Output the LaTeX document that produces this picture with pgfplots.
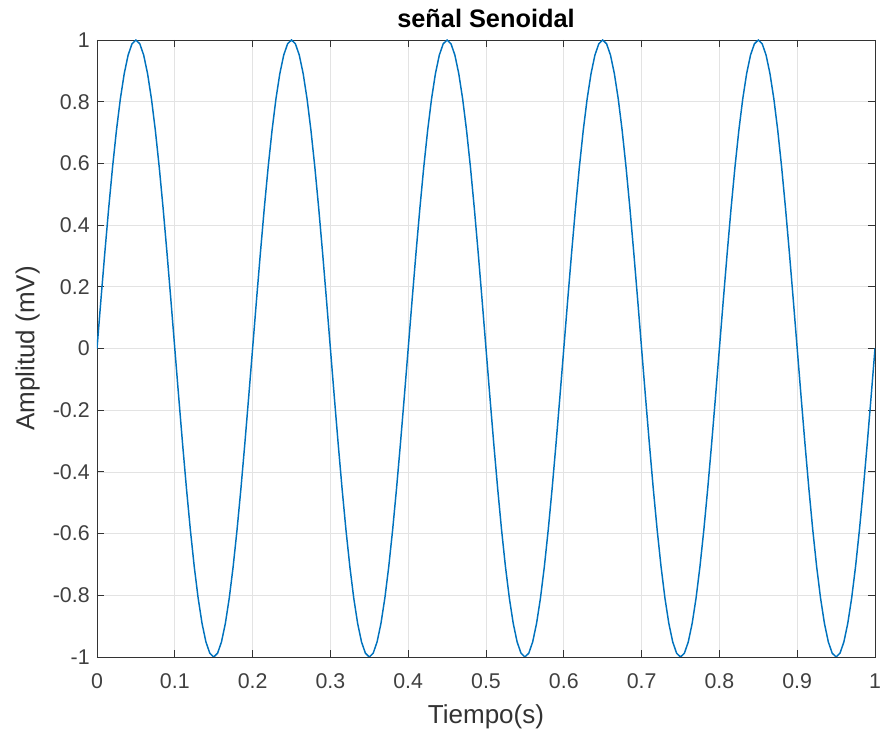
\documentclass[border=0pt]{standalone}
\usepackage{pgfplots}
\pgfplotsset{compat=1.18}
\usepackage{fontspec}
\setmainfont{Liberation Sans}
\definecolor{mblue}{RGB}{0,114,189}
\begin{document}
\begin{tikzpicture}
\useasboundingbox (-72.75pt,-59.25pt) rectangle (589.5pt,492.75pt);
\begin{axis}[
  at={(0,0)}, anchor=south west,
  scale only axis,
  width=583.5pt, height=462.75pt,
  xmin=0, xmax=1, ymin=-1, ymax=1,
  xtick={0,0.1,...,1}, ytick={-1,-0.8,...,1},
  xticklabels={0,0.1,0.2,0.3,0.4,0.5,0.6,0.7,0.8,0.9,1},
  yticklabels={-1,-0.8,-0.6,-0.4,-0.2,0,0.2,0.4,0.6,0.8,1},
  tick align=inside, tick pos=both,
  major tick length=5pt,
  grid=major,
  grid style={gray!22, line width=0.5pt},
  axis line style={black!80, line width=0.7pt},
  every tick/.style={black!80, line width=0.7pt},
  tick label style={font=\fontsize{16}{18}\selectfont, black!75},
  xticklabel style={yshift=-9pt},
  yticklabel style={xshift=-2pt},
  xlabel={Tiempo(s)}, ylabel={Amplitud (mV)},
  label style={font=\fontsize{19.5}{22}\selectfont, black!80},
  xlabel style={at={(axis description cs:0.5,0)}, anchor=center, yshift=-45pt},
  ylabel style={at={(axis description cs:0,0.5)}, anchor=center, yshift=52pt},
  title={\textbf{señal Senoidal}},
  title style={font=\fontsize{19}{22}\selectfont, at={(axis description cs:0.5,1)}, anchor=center, yshift=10pt},
  /pgf/number format/assume math mode=true,
]
\addplot[color=mblue, line width=1.1pt, no markers] table {
x y
0 0
0.005 0.1564
0.010 0.3090
0.015 0.4540
0.020 0.5878
0.025 0.7071
0.030 0.8090
0.035 0.8910
0.040 0.9511
0.045 0.9877
0.050 1
0.055 0.9877
0.060 0.9511
0.065 0.8910
0.070 0.8090
0.075 0.7071
0.080 0.5878
0.085 0.4540
0.090 0.3090
0.095 0.1564
0.100 0
0.105 -0.1564
0.110 -0.3090
0.115 -0.4540
0.120 -0.5878
0.125 -0.7071
0.130 -0.8090
0.135 -0.8910
0.140 -0.9511
0.145 -0.9877
0.150 -1
0.155 -0.9877
0.160 -0.9511
0.165 -0.8910
0.170 -0.8090
0.175 -0.7071
0.180 -0.5878
0.185 -0.4540
0.190 -0.3090
0.195 -0.1564
0.200 0
0.205 0.1564
0.210 0.3090
0.215 0.4540
0.220 0.5878
0.225 0.7071
0.230 0.8090
0.235 0.8910
0.240 0.9511
0.245 0.9877
0.250 1
0.255 0.9877
0.260 0.9511
0.265 0.8910
0.270 0.8090
0.275 0.7071
0.280 0.5878
0.285 0.4540
0.290 0.3090
0.295 0.1564
0.300 0
0.305 -0.1564
0.310 -0.3090
0.315 -0.4540
0.320 -0.5878
0.325 -0.7071
0.330 -0.8090
0.335 -0.8910
0.340 -0.9511
0.345 -0.9877
0.350 -1
0.355 -0.9877
0.360 -0.9511
0.365 -0.8910
0.370 -0.8090
0.375 -0.7071
0.380 -0.5878
0.385 -0.4540
0.390 -0.3090
0.395 -0.1564
0.400 0
0.405 0.1564
0.410 0.3090
0.415 0.4540
0.420 0.5878
0.425 0.7071
0.430 0.8090
0.435 0.8910
0.440 0.9511
0.445 0.9877
0.450 1
0.455 0.9877
0.460 0.9511
0.465 0.8910
0.470 0.8090
0.475 0.7071
0.480 0.5878
0.485 0.4540
0.490 0.3090
0.495 0.1564
0.500 0
0.505 -0.1564
0.510 -0.3090
0.515 -0.4540
0.520 -0.5878
0.525 -0.7071
0.530 -0.8090
0.535 -0.8910
0.540 -0.9511
0.545 -0.9877
0.550 -1
0.555 -0.9877
0.560 -0.9511
0.565 -0.8910
0.570 -0.8090
0.575 -0.7071
0.580 -0.5878
0.585 -0.4540
0.590 -0.3090
0.595 -0.1564
0.600 0
0.605 0.1564
0.610 0.3090
0.615 0.4540
0.620 0.5878
0.625 0.7071
0.630 0.8090
0.635 0.8910
0.640 0.9511
0.645 0.9877
0.650 1
0.655 0.9877
0.660 0.9511
0.665 0.8910
0.670 0.8090
0.675 0.7071
0.680 0.5878
0.685 0.4540
0.690 0.3090
0.695 0.1564
0.700 0
0.705 -0.1564
0.710 -0.3090
0.715 -0.4540
0.720 -0.5878
0.725 -0.7071
0.730 -0.8090
0.735 -0.8910
0.740 -0.9511
0.745 -0.9877
0.750 -1
0.755 -0.9877
0.760 -0.9511
0.765 -0.8910
0.770 -0.8090
0.775 -0.7071
0.780 -0.5878
0.785 -0.4540
0.790 -0.3090
0.795 -0.1564
0.800 0
0.805 0.1564
0.810 0.3090
0.815 0.4540
0.820 0.5878
0.825 0.7071
0.830 0.8090
0.835 0.8910
0.840 0.9511
0.845 0.9877
0.850 1
0.855 0.9877
0.860 0.9511
0.865 0.8910
0.870 0.8090
0.875 0.7071
0.880 0.5878
0.885 0.4540
0.890 0.3090
0.895 0.1564
0.900 0
0.905 -0.1564
0.910 -0.3090
0.915 -0.4540
0.920 -0.5878
0.925 -0.7071
0.930 -0.8090
0.935 -0.8910
0.940 -0.9511
0.945 -0.9877
0.950 -1
0.955 -0.9877
0.960 -0.9511
0.965 -0.8910
0.970 -0.8090
0.975 -0.7071
0.980 -0.5878
0.985 -0.4540
0.990 -0.3090
0.995 -0.1564
1.000 0
};
\end{axis}
\end{tikzpicture}
\end{document}
